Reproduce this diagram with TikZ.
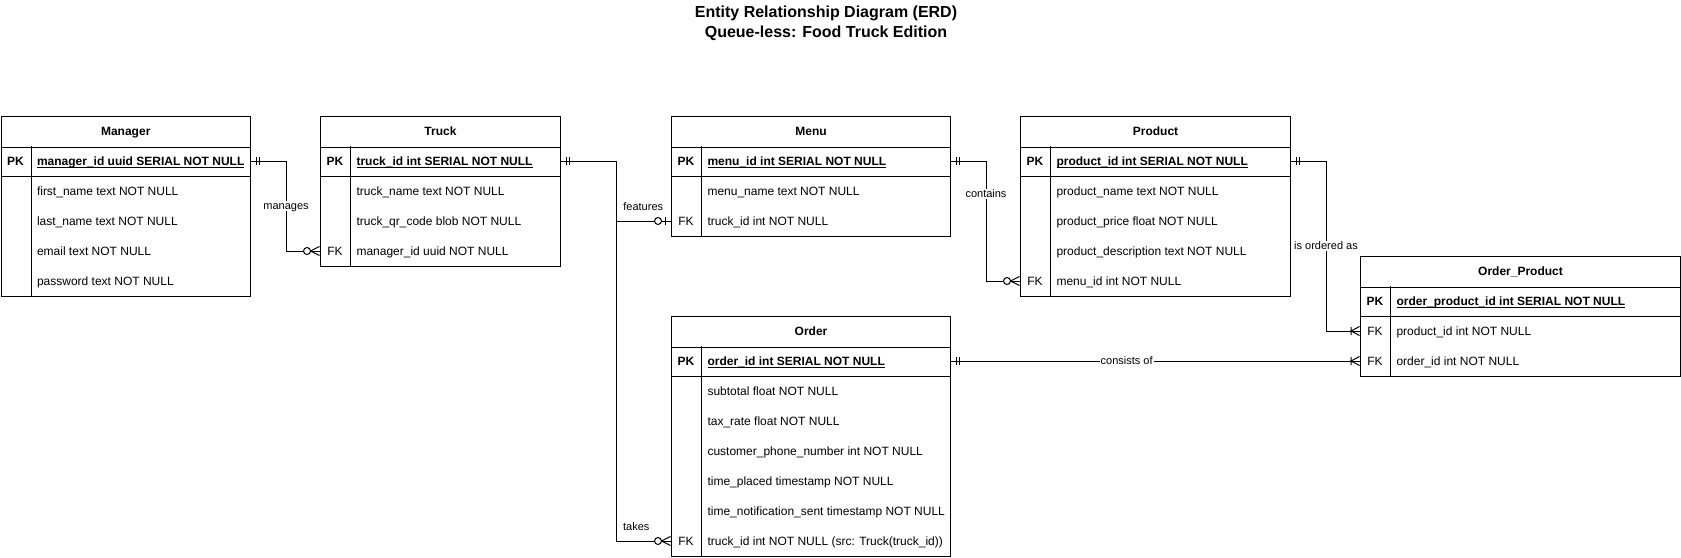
\documentclass[tikz,border=0pt]{standalone}
\usepackage{fontspec}
\setmainfont{Liberation Sans}
\usepackage{tikz}

\newcommand{\pkline}[1]{\setbox0\hbox{#1}\rlap{\rule[-2.3pt]{\wd0}{0.9pt}}\box0}

\pgfdeclarearrow{
  name = erone,
  setup code = {
    \pgfarrowssettipend{0pt}
    \pgfarrowssetlineend{0pt}
    \pgfarrowssetbackend{-9pt}
    \pgfarrowshullpoint{0pt}{4pt}
    \pgfarrowshullpoint{0pt}{-4pt}
    \pgfarrowshullpoint{-9pt}{4pt}
    \pgfarrowshullpoint{-9pt}{-4pt}
  },
  drawing code = {
    \pgfpathmoveto{\pgfqpoint{-5pt}{4pt}}
    \pgfpathlineto{\pgfqpoint{-5pt}{-4pt}}
    \pgfpathmoveto{\pgfqpoint{-8pt}{4pt}}
    \pgfpathlineto{\pgfqpoint{-8pt}{-4pt}}
    \pgfusepathqstroke
  }
}
\pgfdeclarearrow{
  name = erzmany,
  setup code = {
    \pgfarrowssettipend{0pt}
    \pgfarrowssetlineend{0pt}
    \pgfarrowssetbackend{-16.5pt}
    \pgfarrowshullpoint{0pt}{5pt}
    \pgfarrowshullpoint{0pt}{-5pt}
    \pgfarrowshullpoint{-16.5pt}{4pt}
    \pgfarrowshullpoint{-16.5pt}{-4pt}
  },
  drawing code = {
    \pgfpathmoveto{\pgfqpoint{0pt}{4.5pt}}
    \pgfpathlineto{\pgfqpoint{-9pt}{0pt}}
    \pgfpathlineto{\pgfqpoint{0pt}{-4.5pt}}
    \pgfusepathqstroke
    \pgfpathcircle{\pgfqpoint{-12.5pt}{0pt}}{3.5pt}
    \pgfsetfillcolor{white}
    \pgfusepathqfillstroke
  }
}
\pgfdeclarearrow{
  name = erzone,
  setup code = {
    \pgfarrowssettipend{0pt}
    \pgfarrowssetlineend{0pt}
    \pgfarrowssetbackend{-16.5pt}
    \pgfarrowshullpoint{0pt}{4pt}
    \pgfarrowshullpoint{0pt}{-4pt}
    \pgfarrowshullpoint{-16.5pt}{4pt}
    \pgfarrowshullpoint{-16.5pt}{-4pt}
  },
  drawing code = {
    \pgfpathmoveto{\pgfqpoint{-5pt}{4pt}}
    \pgfpathlineto{\pgfqpoint{-5pt}{-4pt}}
    \pgfusepathqstroke
    \pgfpathcircle{\pgfqpoint{-12.5pt}{0pt}}{3.5pt}
    \pgfsetfillcolor{white}
    \pgfusepathqfillstroke
  }
}
\pgfdeclarearrow{
  name = eronemany,
  setup code = {
    \pgfarrowssettipend{0pt}
    \pgfarrowssetlineend{0pt}
    \pgfarrowssetbackend{-9pt}
    \pgfarrowshullpoint{0pt}{5pt}
    \pgfarrowshullpoint{0pt}{-5pt}
    \pgfarrowshullpoint{-9pt}{4pt}
    \pgfarrowshullpoint{-9pt}{-4pt}
  },
  drawing code = {
    \pgfpathmoveto{\pgfqpoint{0pt}{4.5pt}}
    \pgfpathlineto{\pgfqpoint{-8.5pt}{0pt}}
    \pgfpathlineto{\pgfqpoint{0pt}{-4.5pt}}
    \pgfpathmoveto{\pgfqpoint{-8.5pt}{4pt}}
    \pgfpathlineto{\pgfqpoint{-8.5pt}{-4pt}}
    \pgfusepathqstroke
  }
}

\begin{document}
\begin{tikzpicture}[x=1pt,y=-1pt,line width=1pt,
  every node/.style={font=\fontsize{12}{14}\selectfont},
  tbl/.style={draw,anchor=north west,inner sep=0pt},
  hdr/.style={anchor=north,minimum height=30pt,font=\fontsize{12}{14}\selectfont\bfseries,text height=8.6pt,text depth=0pt},
  kc/.style={minimum width=30pt,minimum height=30pt,inner sep=0pt,text height=8.6pt,text depth=0pt},
  fld/.style={anchor=west,minimum height=30pt,inner xsep=6pt,inner ysep=0pt,text height=8.6pt,text depth=0pt},
  pk/.style={font=\fontsize{12}{14}\selectfont\bfseries},
  lbl/.style={fill=white,inner sep=1pt,font=\fontsize{11}{13}\selectfont,text height=7.9pt,text depth=0pt}]

\useasboundingbox (0,0) rectangle (1681,557);

\node[font=\fontsize{16}{19.5}\selectfont\bfseries,align=center,anchor=north,inner sep=0pt] (title) at (826,5.8) {Entity Relationship Diagram (ERD)\\Queue-less: Food Truck Edition};

\node[tbl,minimum width=249.5pt,minimum height=180pt] (man) at (0.5,116) {};
\node[hdr] (man-h) at (man.north) {Manager};
\node[kc,pk] (man-pk) at (15.5,161) {PK};
\node[fld,pk] (man-id) at (30.5,161) {\pkline{manager\_id uuid SERIAL NOT NULL}};
\node[fld] (man-fn) at (30.5,191) {first\_name text NOT NULL};
\node[fld] (man-ln) at (30.5,221) {last\_name text NOT NULL};
\node[fld] (man-em) at (30.5,251) {email text NOT NULL};
\node[fld] (man-pw) at (30.5,281) {password text NOT NULL};
\draw (man.west |- man-h.south) -- (man.east |- man-h.south);
\draw (man.west |- man-id.south) -- (man.east |- man-id.south);
\draw (man-pk.north east) -- (man-pk.north east |- man.south);

\node[tbl,minimum width=240pt,minimum height=150pt] (trk) at (320,116) {};
\node[hdr] (trk-h) at (trk.north) {Truck};
\node[kc,pk] (trk-pk) at (335,161) {PK};
\node[fld,pk] (trk-id) at (350,161) {\pkline{truck\_id int SERIAL NOT NULL}};
\node[fld] (trk-nm) at (350,191) {truck\_name text NOT NULL};
\node[fld] (trk-qr) at (350,221) {truck\_qr\_code blob NOT NULL};
\node[kc] (trk-fk) at (335,251) {FK};
\node[fld] (trk-mg) at (350,251) {manager\_id uuid NOT NULL};
\draw (trk.west |- trk-h.south) -- (trk.east |- trk-h.south);
\draw (trk.west |- trk-id.south) -- (trk.east |- trk-id.south);
\draw (trk-pk.north east) -- (trk-pk.north east |- trk.south);

\node[tbl,minimum width=279pt,minimum height=120pt] (menu) at (671,116) {};
\node[hdr] (menu-h) at (menu.north) {Menu};
\node[kc,pk] (menu-pk) at (686,161) {PK};
\node[fld,pk] (menu-id) at (701,161) {\pkline{menu\_id int SERIAL NOT NULL}};
\node[fld] (menu-nm) at (701,191) {menu\_name text NOT NULL};
\node[kc] (menu-fk) at (686,221) {FK};
\node[fld] (menu-tk) at (701,221) {truck\_id int NOT NULL};
\draw (menu.west |- menu-h.south) -- (menu.east |- menu-h.south);
\draw (menu.west |- menu-id.south) -- (menu.east |- menu-id.south);
\draw (menu-pk.north east) -- (menu-pk.north east |- menu.south);

\node[tbl,minimum width=270pt,minimum height=180pt] (prd) at (1020,116) {};
\node[hdr] (prd-h) at (prd.north) {Product};
\node[kc,pk] (prd-pk) at (1035,161) {PK};
\node[fld,pk] (prd-id) at (1050,161) {\pkline{product\_id int SERIAL NOT NULL}};
\node[fld] (prd-nm) at (1050,191) {product\_name text NOT NULL};
\node[fld] (prd-pr) at (1050,221) {product\_price float NOT NULL};
\node[fld] (prd-ds) at (1050,251) {product\_description text NOT NULL};
\node[kc] (prd-fk) at (1035,281) {FK};
\node[fld] (prd-mn) at (1050,281) {menu\_id int NOT NULL};
\draw (prd.west |- prd-h.south) -- (prd.east |- prd-h.south);
\draw (prd.west |- prd-id.south) -- (prd.east |- prd-id.south);
\draw (prd-pk.north east) -- (prd-pk.north east |- prd.south);

\node[tbl,minimum width=279pt,minimum height=240pt] (ord) at (671,316) {};
\node[hdr] (ord-h) at (ord.north) {Order};
\node[kc,pk] (ord-pk) at (686,361) {PK};
\node[fld,pk] (ord-id) at (701,361) {\pkline{order\_id int SERIAL NOT NULL}};
\node[fld] (ord-st) at (701,391) {subtotal float NOT NULL};
\node[fld] (ord-tx) at (701,421) {tax\_rate float NOT NULL};
\node[fld] (ord-ph) at (701,451) {customer\_phone\_number int NOT NULL};
\node[fld] (ord-tp) at (701,481) {time\_placed timestamp NOT NULL};
\node[fld] (ord-ts) at (701,511) {time\_notification\_sent timestamp NOT NULL};
\node[kc] (ord-fk) at (686,541) {FK};
\node[fld] (ord-tk) at (701,541) {truck\_id int NOT NULL (src: Truck(truck\_id))};
\draw (ord.west |- ord-h.south) -- (ord.east |- ord-h.south);
\draw (ord.west |- ord-id.south) -- (ord.east |- ord-id.south);
\draw (ord-pk.north east) -- (ord-pk.north east |- ord.south);

\node[tbl,minimum width=320pt,minimum height=120pt] (op) at (1360,256) {};
\node[hdr] (op-h) at (op.north) {Order\_Product};
\node[kc,pk] (op-pk) at (1375,301) {PK};
\node[fld,pk] (op-id) at (1390,301) {\pkline{order\_product\_id int SERIAL NOT NULL}};
\node[kc] (op-fk1) at (1375,331) {FK};
\node[fld] (op-pd) at (1390,331) {product\_id int NOT NULL};
\node[kc] (op-fk2) at (1375,361) {FK};
\node[fld] (op-od) at (1390,361) {order\_id int NOT NULL};
\draw (op.west |- op-h.south) -- (op.east |- op-h.south);
\draw (op.west |- op-id.south) -- (op.east |- op-id.south);
\draw (op-pk.north east) -- (op-pk.north east |- op.south);

\draw[erone-erzmany] (man-id -| man.east) -- ++(35,0) |- node[lbl,pos=0.25] {manages} (trk-fk.west);
\draw[erone-erzone] (trk-id -| trk.east) -- ++(55,0) |- node[lbl,pos=0.75,above=9pt] {features} (menu-fk.west);
\draw[erone-erzmany] (trk-id -| trk.east) -- ++(55,0) |- node[lbl,pos=0.75,above=9pt,xshift=-7pt] {takes} (ord-fk.west);
\draw[erone-erzmany] (menu-id -| menu.east) -- ++(35,0) |- node[lbl,pos=0.1375] {contains} (prd-fk.west);
\draw[erone-eronemany] (prd-id -| prd.east) -- ++(35,0) |- node[lbl,pos=0.25] {is ordered as} (op-fk1.west);
\draw[erone-eronemany] (ord-id -| ord.east) -- node[lbl,pos=0.43] {consists of} (op-fk2.west);
\end{tikzpicture}
\end{document}
